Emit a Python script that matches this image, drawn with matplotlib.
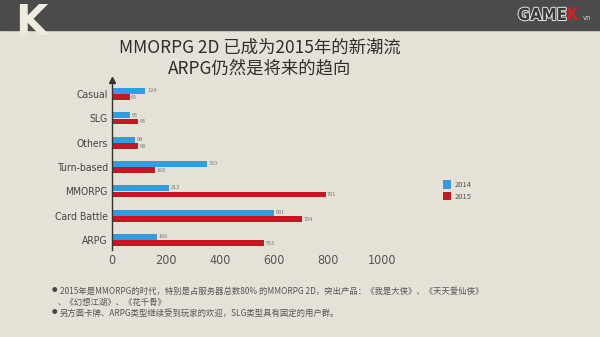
import matplotlib.pyplot as plt
from matplotlib.patches import Rectangle
import matplotlib.patheffects as pe

plt.rcParams['font.family'] = ['Noto Sans CJK SC', 'DejaVu Sans']

# data, bottom to top
categories = ['ARPG', 'Card Battle', 'MMORPG', 'Turn-based', 'Others', 'SLG', 'Casual']
v2014 = [166, 601, 212, 353, 84, 66, 124]
v2015 = [563, 704, 791, 160, 98, 95, 65]
xticks = [0, 200, 400, 600, 800, 1000]

title1 = 'MMORPG 2D 已成为2015年的新潮流'
title2 = 'ARPG仍然是将来的趋向'
note1 = '2015年是MMORPG的时代，特别是占服务器总数80% 的MMORPG 2D，突出产品：《我是大侠》、《天天爱仙侠》'
note1b = '、《幻想江湖》、《花千骨》'
note2 = '另方面卡牌、ARPG类型继续受到玩家的欢迎，SLG类型具有固定的用户群。'

bg = '#e6e1d6'
blue = '#2e9de3'
red = '#c1191f'
grey = '#555555'

fig = plt.figure(figsize=(6, 3.37), dpi=100, facecolor=bg)

# header band
fig.patches.append(Rectangle((0, 1 - 30/337), 1, 30/337, transform=fig.transFigure,
                             color='#4b4b4b', zorder=0))
fig.text(0.025, 1 - 44/337, 'K', fontsize=30, color='#efebe0', fontweight='bold',
         family='DejaVu Sans', va='bottom')
fig.text(0.945, 1 - 15/337, 'GAME', fontsize=12, color='#3a3a3a', fontweight='bold',
         family='DejaVu Sans', stretch='condensed', ha='right', va='center',
         path_effects=[pe.withStroke(linewidth=1.5, foreground='#dddddd')])
fig.text(0.945, 1 - 15/337, 'K', fontsize=12, color='#d42020', fontweight='bold',
         family='DejaVu Sans', stretch='condensed', ha='left', va='center')
fig.text(0.972, 1 - 18/337, 'vn', fontsize=5, color='#cccccc', family='DejaVu Sans',
         ha='left', va='center')

# titles
fig.text(260/600, 1 - 48/337, title1, fontsize=12.5, color='#2e2e2e', ha='center',
         va='center', fontweight='medium')
fig.text(260/600, 1 - 68/337, title2, fontsize=12.5, color='#2e2e2e', ha='center',
         va='center', fontweight='medium')

ax = fig.add_axes([112/600, (337 - 250)/337, 270/600, (250 - 80)/337])
ax.set_facecolor('none')
ys = list(range(len(categories)))
h = 0.24
ax.barh([y + 0.125 for y in ys], v2014, height=h, color=blue, label='2014')
ax.barh([y - 0.125 for y in ys], v2015, height=h, color=red, label='2015')
for y, a, b in zip(ys, v2014, v2015):
    ax.text(a + 6, y + 0.14, str(a), fontsize=4, color='#777777', va='center')
    ax.text(b + 6, y - 0.14, str(b), fontsize=4, color='#777777', va='center')

ax.set_xlim(0, 1000)
ax.set_ylim(-0.41, 6.58)
ax.set_yticks(ys)
ax.set_yticklabels(categories, fontsize=7.5, color='#444444',
                   family='DejaVu Sans', stretch='condensed')
ax.set_xticks(xticks)
ax.set_xticklabels([str(t) for t in xticks], fontsize=9, color=grey,
                   family='DejaVu Sans', stretch='condensed')
for s in ['top', 'right', 'bottom']:
    ax.spines[s].set_visible(False)
ax.spines['left'].set_color('#333333')
ax.spines['left'].set_linewidth(1)
ax.tick_params(length=0, pad=3)
ax.plot(0, 1.0, marker='^', color='#333333', markersize=4,
        transform=ax.get_xaxis_transform(), clip_on=False)

leg = ax.legend(loc='upper left', bbox_to_anchor=(1.2, 0.45), frameon=False,
                fontsize=5.5, handlelength=1.1, handleheight=1.4, labelspacing=0.3,
                handletextpad=0.4)
for t in leg.get_texts():
    t.set_color(grey)

# footnotes
fig.text(52/600, 1 - 291/337, '●', fontsize=4, color='#444444', va='center')
fig.text(60/600, 1 - 291/337, note1, fontsize=6, color=grey, va='center')
fig.text(58/600, 1 - 302/337, note1b, fontsize=6, color=grey, va='center')
fig.text(52/600, 1 - 313/337, '●', fontsize=4, color='#444444', va='center')
fig.text(60/600, 1 - 313/337, note2, fontsize=6, color=grey, va='center')

fig.savefig('out.png', dpi=100, facecolor=bg)
